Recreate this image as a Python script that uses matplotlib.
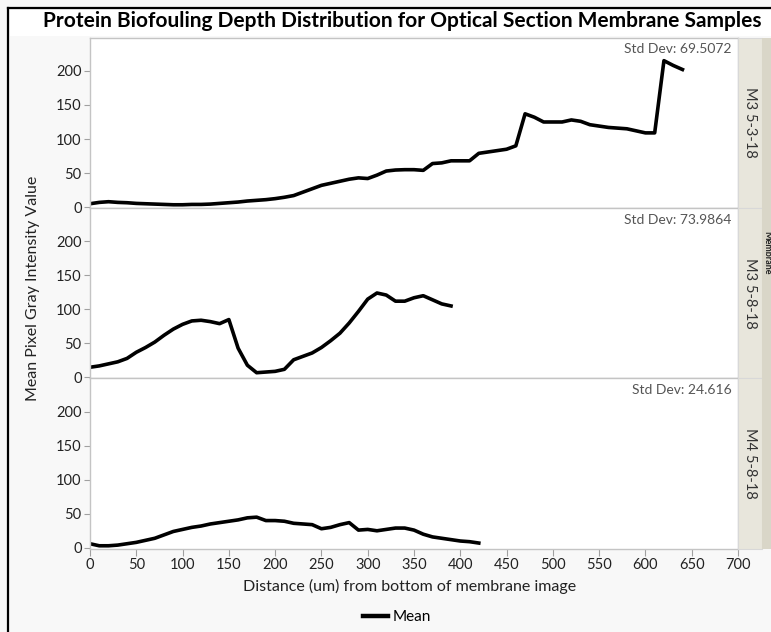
import numpy as np
import matplotlib
matplotlib.use("Agg")
from matplotlib import pyplot as plt
from matplotlib.lines import Line2D
from matplotlib.patches import Rectangle

plt.rcParams['font.family'] = ['Lato', 'DejaVu Sans']

# distance (um) from bottom and mean gray value per sample
x_m3_0503 = list(range(0, 650, 10))
y_m3_0503 = [5, 7, 8, 7, 6.5, 5.5, 5, 4.5, 4, 3.5, 3.5, 4, 4, 4.5, 5.5, 6.5,
             7.5, 9, 10, 11, 12.5, 14.5, 17, 22, 27, 32, 35, 38, 41, 43, 42,
             47, 53, 54.5, 55, 55, 54, 64, 65, 68, 68, 68, 79, 81, 83, 85, 90,
             137, 132, 125, 125, 125, 128, 126, 121, 119, 117, 116, 115, 112,
             109, 109, 215, 208, 202]

x_m3_0508 = list(range(0, 400, 10))
y_m3_0508 = [15, 17, 20, 23, 28, 37, 44, 52, 62, 71, 78, 83, 84, 82, 79, 85,
             43, 18, 7, 8, 9, 12, 26, 31, 36, 44, 54, 65, 80, 97, 115, 124,
             121, 112, 112, 117, 120, 114, 108, 105]

x_m4_0508 = list(range(0, 430, 10))
y_m4_0508 = [6, 3, 3, 4, 6, 8, 11, 14, 19, 24, 27, 30, 32, 35, 37, 39, 41, 44,
             45, 40, 40, 39, 36, 35, 34, 28, 30, 34, 37, 26, 27, 25, 27, 29,
             29, 26, 20, 16, 14, 12, 10, 9, 7]

samples = ['M3 5-3-18', 'M3 5-8-18', 'M4 5-8-18']
std_devs = ['69.5072', '73.9864', '24.616']
series = [(x_m3_0503, y_m3_0503), (x_m3_0508, y_m3_0508), (x_m4_0508, y_m4_0508)]

W, H = 771, 632
fig = plt.figure(figsize=(W / 100, H / 100), dpi=100, facecolor='#f8f8f8')

# white band behind the title, black frame on left and top
fig.patches.append(Rectangle((10 / W, 1 - 36 / H), 1, 26 / H, transform=fig.transFigure,
                             facecolor='white', edgecolor='none', zorder=0))
fig.add_artist(Line2D([8 / W, 8 / W], [0, 1 - 8 / H], transform=fig.transFigure,
                      color='black', lw=1.6))
fig.add_artist(Line2D([8 / W, 1], [1 - 8 / H, 1 - 8 / H], transform=fig.transFigure,
                      color='black', lw=1.6))

left, right = 90 / W, 738 / W
top, bottom = 1 - 37.5 / H, 1 - 548.5 / H
gs = fig.add_gridspec(3, 1, left=left, right=right, top=top, bottom=bottom, hspace=0)

grey = '#c4c4c4'
axes = []
for i, (xs, ys) in enumerate(series):
    ax = fig.add_subplot(gs[i])
    ax.plot(xs, ys, color='black', lw=2.6, solid_joinstyle='round', label='Mean')
    ax.set_xlim(0, 700)
    ax.set_ylim(-1, 249)
    ax.set_yticks([0, 50, 100, 150, 200])
    ax.set_xticks(np.arange(0, 701, 50))
    ax.set_facecolor('white')
    for s in ax.spines.values():
        s.set_color(grey)
        s.set_linewidth(1.0)
    ax.tick_params(axis='y', direction='out', length=4, color='#a0a0a0',
                   labelsize=10.5, labelcolor='#222222', pad=2)
    ax.tick_params(axis='x', direction='out', length=5, color='#a0a0a0',
                   labelsize=10.5, labelcolor='#222222', pad=2)
    if i < 2:
        ax.tick_params(axis='x', bottom=False, labelbottom=False)
    ax.text(0.99, 0.965, 'Std Dev: ' + std_devs[i], transform=ax.transAxes,
            ha='right', va='top', fontsize=10, color='#555555')
    axes.append(ax)

    # facet strip on the right
    pos = ax.get_position()
    fig.patches.append(Rectangle((738 / W, pos.y0), 24 / W, pos.height,
                                 transform=fig.transFigure, facecolor='#e8e6dc',
                                 edgecolor='#d8d8d8', lw=0.8, zorder=1))
    fig.text(750 / W, pos.y0 + pos.height / 2, samples[i], rotation=270,
             ha='center', va='center', fontsize=10.5, color='#333333')

# outer strip holding the group title
fig.patches.append(Rectangle((762 / W, bottom), 12 / W, top - bottom,
                             transform=fig.transFigure, facecolor='#d9d6c8',
                             edgecolor='none', zorder=1))
fig.text(766.5 / W, 1 - 253 / H, 'Membrane', rotation=270, ha='center', va='center',
         fontsize=6.5, fontweight='bold', color='#222222')

fig.text(402 / W, 1 - 21 / H,
         'Protein Biofouling Depth Distribution for Optical Section Membrane Samples',
         ha='center', va='center', fontsize=15, fontweight='bold', color='black')
fig.text(33 / W, 1 - 288 / H, 'Mean Pixel Gray Intensity Value', rotation=90,
         ha='center', va='center', fontsize=11.5, color='#222222')
fig.text(410 / W, 1 - 586 / H, 'Distance (um) from bottom of membrane image',
         ha='center', va='center', fontsize=11.5, color='#222222')

fig.legend(handles=[Line2D([], [], color='black', lw=3.2)], labels=['Mean'],
           loc='center', bbox_to_anchor=(397 / W, 1 - 617 / H), frameon=False,
           fontsize=11, handlelength=1.6, handletextpad=0.3)

fig.savefig('out.png', dpi=100, facecolor=fig.get_facecolor())
